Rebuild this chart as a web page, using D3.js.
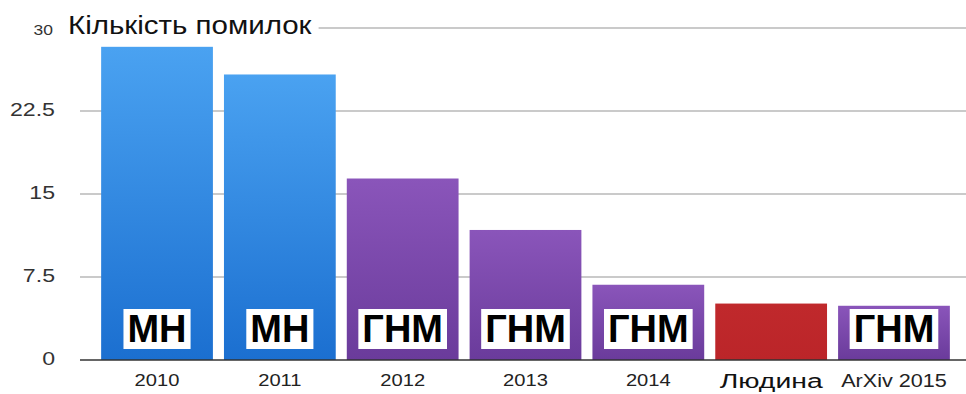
<!DOCTYPE html>
<html>
<head>
<meta charset="utf-8">
<script src="https://cdn.jsdelivr.net/npm/d3@7"></script>
<style>
  body { margin: 0; background: #fff; }
  text { font-family: "Liberation Sans", Arial, sans-serif; }
</style>
</head>
<body>
<div id="chart"></div>
<script>
var w = 966;
var h = 394;

var categories = ["2010", "2011", "2012", "2013", "2014", "Людина", "ArXiv 2015"];
var values = [28.3, 25.8, 16.4, 11.75, 6.8, 5.1, 4.9];
var kinds = ["blue", "blue", "purple", "purple", "purple", "red", "purple"];
var barLabels = ["МН", "МН", "ГНМ", "ГНМ", "ГНМ", "", "ГНМ"];
var yTicks = [0, 7.5, 15, 22.5, 30];
var yTitle = "Кількість помилок";

var svg = d3.select("#chart")
            .append("svg")
            .attr("width", w)
            .attr("height", h);

var defs = svg.append("defs");
function grad(id, top, bottom) {
    var g = defs.append("linearGradient").attr("id", id)
        .attr("x1", 0).attr("y1", 0).attr("x2", 0).attr("y2", 1);
    g.append("stop").attr("offset", "0%").attr("stop-color", top);
    g.append("stop").attr("offset", "100%").attr("stop-color", bottom);
}
grad("blue", "#4aa2f1", "#1b6fd0");
grad("purple", "#8a55ba", "#6a3b9b");
grad("red", "#c0292c", "#bb2529");

var x = d3.scaleBand()
          .domain(categories)
          .range([95, 956])
          .paddingInner(0.09)
          .paddingOuter(0.05);

var y = d3.scaleLinear()
          .domain([0, 30])
          .range([360, 28]);

// the picture's text is a bit wider than Liberation Sans, so stretch it
function wideText(sel, px, py, sx) {
    return sel.append("text")
              .attr("transform", "translate(" + px + "," + py + ") scale(" + sx + ",1)");
}

// grid lines
svg.selectAll("line.grid")
   .data(yTicks.filter(function(d) { return d > 0; }))
   .enter()
   .append("line")
   .attr("class", "grid")
   .attr("x1", 80).attr("x2", w)
   .attr("y1", function(d) { return y(d); })
   .attr("y2", function(d) { return y(d); })
   .style("stroke", "#b8b8b8")
   .style("stroke-width", 1.5);

// tick labels
yTicks.forEach(function(d) {
    var big = d != 30;
    wideText(svg, big ? 55 : 53, y(d) + (big ? 4.5 : 7), 1.25)
       .attr("text-anchor", "end")
       .style("font-size", big ? "18.5px" : "14px")
       .style("fill", "#333")
       .text(d);
});

// title with white background covering the top grid line
var title = wideText(svg, 68, 34, 1.18)
   .style("font-size", "25px")
   .style("fill", "#111")
   .text(yTitle);
var tb = title.node().getBoundingClientRect();
svg.insert("rect", "text")
   .attr("x", tb.left - 3).attr("y", tb.top)
   .attr("width", tb.width + 9).attr("height", tb.height)
   .style("fill", "#fff");

// bars
svg.selectAll("rect.bar")
   .data(values)
   .enter()
   .append("rect")
   .attr("class", "bar")
   .attr("x", function(d, i) { return x(categories[i]); })
   .attr("y", function(d) { return y(d); })
   .attr("width", x.bandwidth())
   .attr("height", function(d) { return y(0) - y(d); })
   .style("fill", function(d, i) { return "url(#" + kinds[i] + ")"; });

// baseline
svg.append("line")
   .attr("x1", 80).attr("x2", w)
   .attr("y1", y(0)).attr("y2", y(0))
   .style("stroke", "#333")
   .style("stroke-width", 1.5);

// boxed labels in bars
var lab = svg.selectAll("g.lab")
   .data(barLabels.map(function(t, i) { return { t: t, c: categories[i] }; })
                  .filter(function(d) { return d.t; }))
   .enter()
   .append("g")
   .attr("class", "lab");

lab.append("text")
   .attr("x", function(d) { return x(d.c) + x.bandwidth() / 2; })
   .attr("y", 342)
   .attr("text-anchor", "middle")
   .style("font-size", "38px")
   .style("font-weight", "bold")
   .style("fill", "#000")
   .text(function(d) { return d.t; })
   .each(function() {
       var b = this.getBBox();
       d3.select(this.parentNode).insert("rect", "text")
         .attr("x", b.x - 4).attr("y", 309)
         .attr("width", b.width + 8).attr("height", 40)
         .style("fill", "#fff");
   });

// category labels
categories.forEach(function(d) {
    var cx = x(d) + x.bandwidth() / 2;
    var t;
    if (d == "Людина") {
        t = wideText(svg, cx, 388, 1.35).style("font-size", "21px").style("fill", "#111");
    } else if (d == "ArXiv 2015") {
        t = wideText(svg, cx, 387, 1.2).style("font-size", "18px").style("fill", "#222");
    } else {
        t = wideText(svg, cx, 386, 1.26).style("font-size", "16px").style("fill", "#222");
    }
    t.attr("text-anchor", "middle").text(d);
});
</script>
</body>
</html>
